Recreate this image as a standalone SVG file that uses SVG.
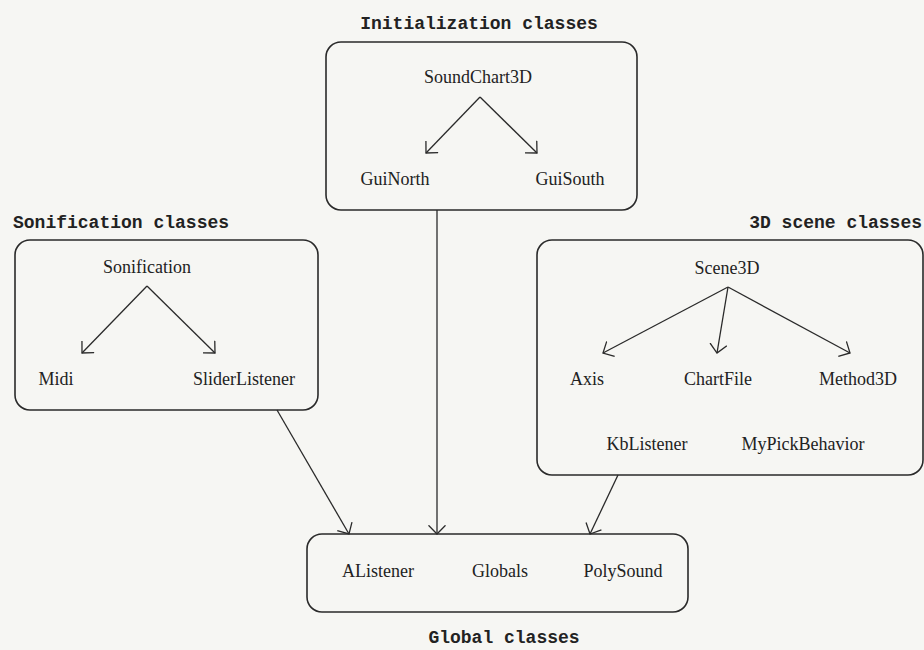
<svg xmlns="http://www.w3.org/2000/svg" width="924" height="650" viewBox="0 0 924 650">
<style>
.bg{fill:#f6f6f3}
.box{fill:none;stroke:#2a2a2a;stroke-width:1.6}
.lbl{font-family:"Liberation Serif","Times New Roman",serif;font-size:18px;fill:#222;text-anchor:middle}
.ttl{font-family:"Liberation Mono","Courier New",monospace;font-size:18px;font-weight:bold;fill:#222}
.c{fill:none;stroke:#2a2a2a;stroke-width:1.3;marker-end:url(#ah)}
</style>
<defs>
<marker id="ah" viewBox="0 0 10 18" refX="9.2" refY="9" markerWidth="10" markerHeight="18" markerUnits="userSpaceOnUse" orient="auto">
<path d="M0.5,0.5 L9.2,9 L0.5,17.5" fill="none" stroke="#2a2a2a" stroke-width="1.3"/>
</marker>
</defs>
<rect class="bg" x="0" y="0" width="924" height="650"/>

<g id="init">
<text class="ttl" x="479" y="29" text-anchor="middle">Initialization classes</text>
<rect class="box" x="326" y="42" width="311" height="168" rx="15"/>
<text class="lbl" x="478" y="83">SoundChart3D</text>
<text class="lbl" x="395" y="185">GuiNorth</text>
<text class="lbl" x="570" y="185">GuiSouth</text>
</g>

<g id="sonif">
<text class="ttl" x="13" y="228">Sonification classes</text>
<rect class="box" x="15" y="240" width="303" height="170" rx="15"/>
<text class="lbl" x="147" y="273">Sonification</text>
<text class="lbl" x="56" y="385">Midi</text>
<text class="lbl" x="244" y="385">SliderListener</text>
</g>

<g id="scene">
<text class="ttl" x="922" y="228" text-anchor="end">3D scene classes</text>
<rect class="box" x="537" y="240" width="386" height="235" rx="15"/>
<text class="lbl" x="727" y="274">Scene3D</text>
<text class="lbl" x="587" y="385">Axis</text>
<text class="lbl" x="718" y="385">ChartFile</text>
<text class="lbl" x="858" y="385">Method3D</text>
<text class="lbl" x="647" y="450">KbListener</text>
<text class="lbl" x="803" y="450">MyPickBehavior</text>
</g>

<g id="global">
<rect class="box" x="307" y="534" width="381" height="78" rx="15"/>
<text class="lbl" x="378" y="577">AListener</text>
<text class="lbl" x="500" y="577">Globals</text>
<text class="lbl" x="623" y="577">PolySound</text>
<text class="ttl" x="504" y="643" text-anchor="middle">Global classes</text>
</g>

<g id="connectors">
<line class="c" x1="480" y1="97" x2="426" y2="153"/>
<line class="c" x1="480" y1="97" x2="537" y2="153"/>
<line class="c" x1="147" y1="286" x2="82" y2="353"/>
<line class="c" x1="147" y1="286" x2="215" y2="353"/>
<line class="c" x1="728" y1="287" x2="603" y2="353"/>
<line class="c" x1="728" y1="287" x2="717" y2="353"/>
<line class="c" x1="728" y1="287" x2="850" y2="353"/>
<line class="c" x1="437" y1="210" x2="437" y2="534"/>
<line class="c" x1="277" y1="410" x2="349" y2="534"/>
<line class="c" x1="618" y1="475" x2="590" y2="534"/>
</g>
</svg>
